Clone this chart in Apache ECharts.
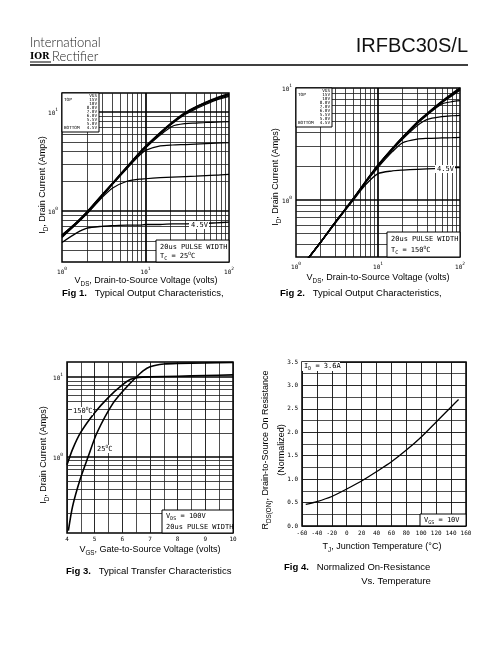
<!DOCTYPE html>
<html><head><meta charset="utf-8">
<script src="https://cdn.jsdelivr.net/npm/echarts@6/dist/echarts.min.js"></script>
<style>html,body{margin:0;padding:0;background:#fff}#c{width:504px;height:648px}</style>
</head><body><div id="c"></div>
<script>
// ---------- Fig 1: Typical Output Characteristics, TC = 25°C ----------
const fig1Vds   = [1, 1.5, 2, 3, 4, 6, 8.5, 10, 15, 21, 30, 40, 53, 70, 100];
const fig1Id15V = [0.57, 0.77, 0.98, 1.45, 1.90, 2.80, 3.90, 4.50, 6.20, 7.90, 9.90, 11.3, 12.6, 13.9, 15.3];
const fig1Id10V = [0.57, 0.77, 0.98, 1.44, 1.89, 2.79, 3.88, 4.47, 6.15, 7.85, 9.80, 11.2, 12.5, 13.7, 15.1];
const fig1Id8V  = [0.56, 0.76, 0.97, 1.43, 1.88, 2.77, 3.85, 4.44, 6.10, 7.78, 9.70, 11.0, 12.3, 13.5, 14.8];
const fig1Id7V  = [0.56, 0.76, 0.97, 1.42, 1.87, 2.75, 3.82, 4.40, 6.02, 7.65, 9.50, 10.8, 12.0, 13.2, 14.4];
const fig1Id6V  = [0.55, 0.75, 0.96, 1.41, 1.86, 2.72, 3.78, 4.33, 5.85, 7.20, 7.65, 7.75, 7.85, 7.90, 8.00];
const fig1Id55V = [0.55, 0.75, 0.95, 1.40, 1.85, 2.69, 3.65, 4.10, 4.55, 4.65, 4.70, 4.75, 4.80, 4.85, 4.90];
const fig1Id5V  = [0.54, 0.74, 0.94, 1.36, 1.70, 2.00, 2.10, 2.12, 2.17, 2.20, 2.23, 2.25, 2.28, 2.30, 2.35];
const fig1Id45V = [0.48, 0.60, 0.67, 0.70, 0.71, 0.72, 0.72, 0.73, 0.73, 0.74, 0.74, 0.75, 0.75, 0.76, 0.77];

// ---------- Fig 2: Typical Output Characteristics, TC = 150°C ----------
const fig2Vds   = [1.4, 2, 3, 5, 7, 10, 15, 20, 30, 40, 60, 80, 100];
const fig2Id15V = [0.30, 0.42, 0.63, 1.03, 1.45, 2.05, 2.90, 3.65, 4.95, 5.95, 7.60, 8.90, 10.0];
const fig2Id10V = [0.30, 0.42, 0.63, 1.03, 1.45, 2.05, 2.89, 3.64, 4.93, 5.92, 7.55, 8.82, 9.90];
const fig2Id8V  = [0.30, 0.42, 0.63, 1.03, 1.44, 2.04, 2.88, 3.62, 4.90, 5.88, 7.48, 8.70, 9.75];
const fig2Id7V  = [0.30, 0.42, 0.63, 1.02, 1.44, 2.03, 2.86, 3.60, 4.87, 5.83, 7.40, 8.55, 9.55];
const fig2Id6V  = [0.30, 0.42, 0.63, 1.02, 1.43, 2.02, 2.84, 3.56, 4.80, 5.75, 7.20, 7.55, 7.70];
const fig2Id55V = [0.30, 0.42, 0.63, 1.02, 1.43, 2.01, 2.80, 3.50, 4.60, 5.25, 5.55, 5.65, 5.70];
const fig2Id5V  = [0.30, 0.42, 0.63, 1.01, 1.42, 1.95, 2.70, 3.25, 3.50, 3.55, 3.58, 3.60, 3.62];
const fig2Id45V = [0.30, 0.42, 0.62, 1.00, 1.36, 1.72, 1.82, 1.85, 1.88, 1.90, 1.92, 1.94, 1.95];

// ---------- Fig 3: Typical Transfer Characteristics ----------
const fig3Vgs150 = [4.0, 4.2, 4.5, 5.0, 5.5, 6.0, 6.3, 6.6, 7.0, 8.0, 9.0, 10.0];
const fig3Id150  = [0.80, 1.25, 2.05, 3.60, 5.60, 8.00, 9.40, 9.95, 10.1, 10.3, 10.5, 10.7];
const fig3Vgs25  = [4.05, 4.2, 4.47, 4.76, 5.08, 5.66, 6.15, 6.5, 6.75, 7.0, 7.5, 8.0, 9.0, 10.0];
const fig3Id25   = [0.12, 0.24, 0.52, 1.00, 2.00, 4.70, 7.50, 10.0, 12.0, 13.5, 14.6, 14.9, 15.1, 15.3];

// ---------- Fig 4: Normalized On-Resistance vs. Temperature ----------
const fig4Tj  = [-55, -40, -20, 0, 20, 40, 60, 80, 100, 120, 140, 150];
const fig4Rds = [0.46, 0.52, 0.63, 0.79, 0.96, 1.16, 1.37, 1.62, 1.90, 2.22, 2.54, 2.70];

// tick label / legend texts
const vgsLegend = ['VGS', '15V', '10V', '8.0V', '7.0V', '6.0V', '5.5V', '5.0V', '4.5V'];
const fig3XTicks = [4, 5, 6, 7, 8, 9, 10];
const fig4XTicks = [-60, -40, -20, 0, 20, 40, 60, 80, 100, 120, 140, 160];
const fig4YTicks = [0.0, 0.5, 1.0, 1.5, 2.0, 2.5, 3.0, 3.5];

const MONO = 'DejaVu Sans Mono';
const SANS = 'Liberation Sans';

function decadeLines(decades, lo, hi) {
  const out = [];
  decades.forEach(d => { for (let k = 2; k <= 9; k++) { const v = +(d * k).toPrecision(3); if (v > lo && v < hi) out.push(v); } });
  return out;
}
function gridSeries(gi, xs, ys, xMaj, yMaj, anchor) {
  const thin = {color: '#1a1a1a', width: 0.8, type: 'solid'};
  const thick = {color: '#000', width: 1.7, type: 'solid'};
  return {
    type: 'line', xAxisIndex: gi, yAxisIndex: gi, data: [anchor], symbol: 'none', showSymbol: false,
    silent: true, z: 1, lineStyle: {width: 0},
    markLine: {
      symbol: ['none', 'none'], silent: true, animation: false, label: {show: false},
      emphasis: {disabled: true}, lineStyle: thin,
      data: [
        ...xs.map(v => ({xAxis: v, lineStyle: thin})),
        ...ys.map(v => ({yAxis: v, lineStyle: thin})),
        ...xMaj.map(v => ({xAxis: v, lineStyle: thick})),
        ...yMaj.map(v => ({yAxis: v, lineStyle: thick}))
      ]
    }
  };
}
function curve(gi, xs, ys, w) {
  return {type: 'line', xAxisIndex: gi, yAxisIndex: gi, data: xs.map((x, i) => [x, ys[i]]),
    symbol: 'none', showSymbol: false, smooth: 0.25, silent: true, z: 5,
    lineStyle: {color: '#000', width: w}};
}
const powRich = {
  b: {fontSize: 6, fontFamily: MONO, color: '#000', verticalAlign: 'bottom', lineHeight: 9},
  e: {fontSize: 4.5, fontFamily: MONO, color: '#000', verticalAlign: 'top', lineHeight: 9}
};
function powLabel(v) {
  const e = Math.log10(v);
  if (Math.abs(e - Math.round(e)) > 1e-6) return '';
  return '{b|10}{e|' + Math.round(e) + '}';
}
function logAxis(gi, min, max, pos) {
  return {gridIndex: gi, type: 'log', logBase: 10, min, max, position: pos,
    axisLine: {show: false}, axisTick: {show: false}, splitLine: {show: false},
    axisLabel: {formatter: powLabel, rich: powRich, margin: 4, color: '#000', showMinLabel: true, showMaxLabel: true}};
}
const gridBase = {show: true, borderColor: '#000', borderWidth: 1.5, backgroundColor: 'rgba(0,0,0,0)', containLabel: false};

// ---------- graphic helpers ----------
const richText = {
  n: {fontSize: 9, fontFamily: SANS, color: '#000', lineHeight: 13, verticalAlign: 'middle'},
  s: {fontSize: 6.3, fontFamily: SANS, color: '#000', lineHeight: 13, verticalAlign: 'bottom'},
  p: {fontSize: 5.5, fontFamily: SANS, color: '#000', lineHeight: 13, verticalAlign: 'top'},
  b: {fontSize: 9.5, fontFamily: SANS, fontWeight: 'bold', color: '#000', lineHeight: 13},
  c: {fontSize: 9.5, fontFamily: SANS, color: '#000', lineHeight: 13},
  m: {fontSize: 7, fontFamily: MONO, color: '#000', lineHeight: 10, verticalAlign: 'middle'},
  ms: {fontSize: 5, fontFamily: MONO, color: '#000', lineHeight: 10, verticalAlign: 'bottom'},
  mp: {fontSize: 4.5, fontFamily: MONO, color: '#000', lineHeight: 10, verticalAlign: 'top'}
};
function T(x, y, text, align, rot, extra) {
  return Object.assign({type: 'text', x, y, rotation: rot || 0, z: 110,
    style: {text, rich: richText, align: align || 'left', verticalAlign: 'middle', fill: '#000', fontFamily: SANS, fontSize: 9}}, extra || {});
}
function R(x, y, w, h, stroke) {
  return {type: 'rect', z: 100, shape: {x, y, width: w, height: h},
    style: {fill: '#fff', stroke: stroke === false ? null : '#000', lineWidth: 1}};
}
function legendBox(x, y, w, h) {
  const els = [R(x, y, w, h)];
  vgsLegend.forEach((s, i) => {
    els.push({type: 'text', z: 110, x: x + w - 2, y: y + 2.5 + i * 4.1,
      style: {text: s, fontFamily: MONO, fontSize: 4.3, fill: '#000', align: 'right', verticalAlign: 'middle'}});
  });
  els.push({type: 'text', z: 110, x: x + 2, y: y + 2.5 + 1 * 4.1, style: {text: 'TOP', fontFamily: MONO, fontSize: 4.3, fill: '#000', align: 'left', verticalAlign: 'middle'}});
  els.push({type: 'text', z: 110, x: x + 2, y: y + 2.5 + 8 * 4.1, style: {text: 'BOTTOM', fontFamily: MONO, fontSize: 4.3, fill: '#000', align: 'left', verticalAlign: 'middle'}});
  return els;
}

const chart = echarts.init(document.getElementById('c'), null, {renderer: 'canvas'});
const option = {
  animation: false,
  backgroundColor: '#fff',
  grid: [
    Object.assign({left: 62, top: 93, width: 167, height: 169}, gridBase),
    Object.assign({left: 296, top: 88, width: 164, height: 169}, gridBase),
    Object.assign({left: 67, top: 362, width: 166, height: 171}, gridBase),
    Object.assign({left: 302, top: 362, width: 164, height: 164}, gridBase)
  ],
  xAxis: [
    logAxis(0, 1, 100, 'bottom'),
    logAxis(1, 1, 100, 'bottom'),
    {gridIndex: 2, type: 'value', min: 4, max: 10, interval: 1,
      axisLine: {show: false}, axisTick: {show: false},
      splitLine: {show: true, lineStyle: {color: '#111', width: 0.9}},
      minorTick: {show: false, splitNumber: 2}, minorSplitLine: {show: true, lineStyle: {color: '#222', width: 0.8}},
      axisLabel: {fontFamily: MONO, fontSize: 6, color: '#000', margin: 3,
        formatter: v => fig3XTicks.includes(v) ? String(v) : ''}},
    {gridIndex: 3, type: 'value', min: -60, max: 160, interval: 20,
      axisLine: {show: false}, axisTick: {show: false},
      splitLine: {show: true, lineStyle: {color: '#111', width: 0.9}},
      axisLabel: {fontFamily: MONO, fontSize: 6, color: '#000', margin: 4,
        formatter: v => fig4XTicks.includes(v) ? String(v) : ''}}
  ],
  yAxis: [
    logAxis(0, 0.305, 15.6, 'left'),
    logAxis(1, 0.31, 10, 'left'),
    logAxis(2, 0.112, 15.5, 'left'),
    {gridIndex: 3, type: 'value', min: 0, max: 3.5, interval: 0.5,
      axisLine: {show: false}, axisTick: {show: false},
      splitLine: {show: true, lineStyle: {color: '#111', width: 0.9}},
      minorTick: {show: false, splitNumber: 2}, minorSplitLine: {show: true, lineStyle: {color: '#222', width: 0.8}},
      axisLabel: {fontFamily: MONO, fontSize: 6, color: '#000', margin: 4,
        formatter: v => fig4YTicks.some(t => Math.abs(t - v) < 1e-9) ? v.toFixed(1) : ''}}
  ],
  series: [
    gridSeries(0, decadeLines([1, 10], 1, 100), decadeLines([0.1, 1], 0.305, 15.6), [10], [1, 10], [1, 1]),
    gridSeries(1, decadeLines([1, 10], 1, 100), decadeLines([0.1, 1], 0.31, 10), [10], [1], [1, 1]),
    gridSeries(2, [], decadeLines([0.1, 1], 0.112, 15.5), [], [1, 10], [4, 1]),
    curve(0, fig1Vds, fig1Id15V, 1.6),
    curve(0, fig1Vds, fig1Id10V, 1.4),
    curve(0, fig1Vds, fig1Id8V, 1.3),
    curve(0, fig1Vds, fig1Id7V, 1.3),
    curve(0, fig1Vds, fig1Id6V, 1.2),
    curve(0, fig1Vds, fig1Id55V, 1.2),
    curve(0, fig1Vds, fig1Id5V, 1.2),
    curve(0, fig1Vds, fig1Id45V, 1.3),
    curve(1, fig2Vds, fig2Id15V, 1.6),
    curve(1, fig2Vds, fig2Id10V, 1.4),
    curve(1, fig2Vds, fig2Id8V, 1.3),
    curve(1, fig2Vds, fig2Id7V, 1.3),
    curve(1, fig2Vds, fig2Id6V, 1.2),
    curve(1, fig2Vds, fig2Id55V, 1.2),
    curve(1, fig2Vds, fig2Id5V, 1.2),
    curve(1, fig2Vds, fig2Id45V, 1.3),
    curve(2, fig3Vgs150, fig3Id150, 1.6),
    curve(2, fig3Vgs25, fig3Id25, 1.6),
    curve(3, fig4Tj, fig4Rds, 1.3)
  ],
  graphic: [
    // header
    {type: 'text', x: 30, y: 43, z: 110, style: {text: 'International', fontFamily: 'Lato', fontWeight: 300, fontSize: 13, fill: '#222', verticalAlign: 'middle'}},
    {type: 'text', x: 30, y: 57, z: 110, style: {text: 'IOR', fontFamily: 'DejaVu Serif', fontWeight: 'bold', fontSize: 9, fill: '#000', verticalAlign: 'middle'}},
    {type: 'line', z: 110, shape: {x1: 30, y1: 62, x2: 51, y2: 62}, style: {stroke: '#000', lineWidth: 1}},
    {type: 'text', x: 52, y: 57, z: 110, style: {text: 'Rectifier', fontFamily: 'Lato', fontWeight: 300, fontSize: 13, fill: '#222', verticalAlign: 'middle'}},
    {type: 'text', x: 468, y: 46, z: 110, style: {text: 'IRFBC30S/L', fontFamily: SANS, fontSize: 20, fill: '#111', align: 'right', verticalAlign: 'middle'}},
    {type: 'line', z: 110, shape: {x1: 30, y1: 65, x2: 468, y2: 65}, style: {stroke: '#000', lineWidth: 1.5}},

    // Fig 1 annotations
    ...legendBox(62, 93, 37, 39),
    R(156, 240, 73, 22),
    T(160, 247, '{m|20us PULSE WIDTH}'),
    T(160, 256.5, '{m|T}{ms|C}{m| = 25}{mp|O}{m|C}'),
    R(189, 221, 20, 8, false),
    T(191, 225, '{m|4.5V}'),
    T(146, 281, '{n|V}{s|DS}{n|, Drain-to-Source Voltage (volts)}', 'center'),
    T(43, 185, '{n|I}{s|D}{n|, Drain Current (Amps)}', 'center', Math.PI / 2),
    T(62, 293, '{b|Fig 1.}{c|   Typical Output Characteristics,}'),

    // Fig 2 annotations
    ...legendBox(296, 88, 36, 39),
    R(387, 232, 73, 25),
    T(391, 239, '{m|20us PULSE WIDTH}'),
    T(391, 250, '{m|T}{ms|C}{m| = 150}{mp|O}{m|C}'),
    R(435, 165, 20, 8, false),
    T(437, 169, '{m|4.5V}'),
    T(378, 278, '{n|V}{s|DS}{n|, Drain-to-Source Voltage (volts)}', 'center'),
    T(276, 177, '{n|I}{s|D}{n|, Drain Current (Amps)}', 'center', Math.PI / 2),
    T(280, 293, '{b|Fig 2.}{c|   Typical Output Characteristics,}'),

    // Fig 3 annotations
    R(162, 510, 71, 23),
    T(166, 516, '{m|V}{ms|DS}{m| = 100V}'),
    T(166, 527, '{m|20us PULSE WIDTH}'),
    R(72, 407, 21, 8, false),
    T(73, 411, '{m|150}{mp|O}{m|C}'),
    R(96, 445, 17, 8, false),
    T(97, 449, '{m|25}{mp|O}{m|C}'),
    T(150, 550, '{n|V}{s|GS}{n|, Gate-to-Source Voltage (volts)}', 'center'),
    T(44, 455, '{n|I}{s|D}{n|, Drain Current (Amps)}', 'center', Math.PI / 2),
    T(66, 571, '{b|Fig 3.}{c|   Typical Transfer Characteristics}'),

    // Fig 4 annotations
    R(302, 362, 38, 9, false),
    T(304, 366.5, '{m|I}{ms|D}{m| = 3.6A}'),
    R(420, 514, 46, 12),
    T(424, 520, '{m|V}{ms|GS}{m| = 10V}'),
    T(382, 547, '{n|T}{s|J}{n|, Junction Temperature (°C)}', 'center'),
    T(266, 450, '{n|R}{s|DS(ON)}{n|, Drain-to-Source On Resistance}', 'center', Math.PI / 2),
    T(282, 450, '{n|(Normalized)}', 'center', Math.PI / 2),
    T(284, 567, '{b|Fig 4.}{c|   Normalized On-Resistance}'),
    T(396, 581, '{c|Vs. Temperature}', 'center')
  ]
};
chart.setOption(option);
</script>
</body></html>
